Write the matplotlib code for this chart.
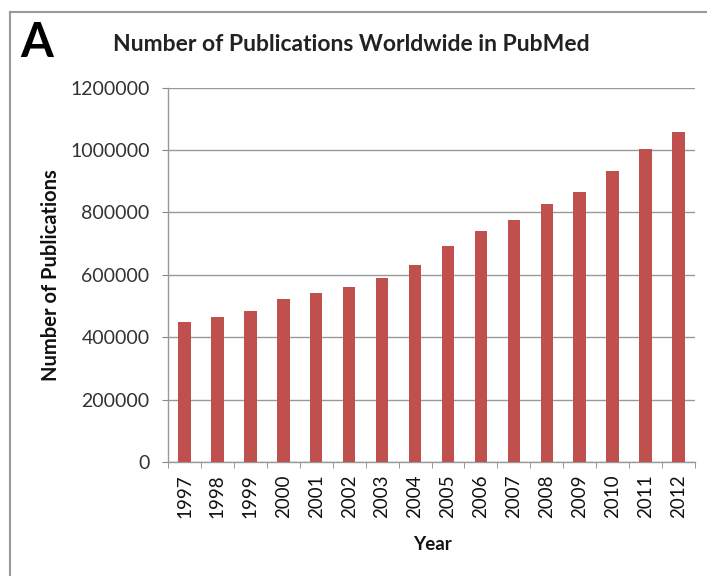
import matplotlib
matplotlib.use("Agg")
import matplotlib.pyplot as plt
from matplotlib.lines import Line2D
import numpy as np

years = ["1997", "1998", "1999", "2000", "2001", "2002", "2003", "2004",
         "2005", "2006", "2007", "2008", "2009", "2010", "2011", "2012"]
publications = [448000, 466000, 484000, 523000, 540000, 560000, 588000, 632000,
                691000, 739000, 774000, 827000, 864000, 932000, 1002000, 1057000]
yticks = [0, 200000, 400000, 600000, 800000, 1000000, 1200000]

plt.rcParams['font.family'] = ['Lato', 'DejaVu Sans']

fig = plt.figure(figsize=(7.07, 5.76), dpi=100)
ax = fig.add_axes([168/707, 0.198, (695-168)/707, 0.650])

x = np.arange(len(years))
ax.bar(x, publications, width=0.38, color="#C0504D", zorder=3)

ax.set_xlim(-0.5, len(years) - 0.5)
ax.set_ylim(0, 1200000)
ax.set_yticks(yticks)
ax.set_yticklabels([str(v) for v in yticks], fontsize=14, color="#333333")
ax.yaxis.grid(True, color="#999999", linewidth=1.0, zorder=0)

# category labels at centers, tick marks at boundaries
ax.set_xticks(x)
ax.set_xticklabels(years, rotation=90, fontsize=13.5, color="#111111")
ax.tick_params(axis='x', which='major', length=0, pad=9)
ax.set_xticks(np.arange(-0.5, len(years) + 0.5, 1), minor=True)
ax.tick_params(axis='x', which='minor', length=4.3, color="#888888", direction='out')
ax.tick_params(axis='y', length=4.3, color="#888888", direction='out', pad=9)

for s in ['top', 'right']:
    ax.spines[s].set_visible(False)
for s in ['left', 'bottom']:
    ax.spines[s].set_color("#999999")
    ax.spines[s].set_linewidth(1.0)

fig.text(0.497, 0.922, "Number of Publications Worldwide in PubMed",
         ha='center', va='center', fontsize=16.5, fontweight='bold', color="#222222")
fig.text(0.052, 0.925, "A", ha='center', va='center', fontsize=34,
         fontweight='bold', color="black")
fig.text(0.072, 0.523, "Number of Publications", rotation=90, ha='center',
         va='center', fontsize=14.5, fontweight='bold', color="#111111")
fig.text(0.611, 0.054, "Year", ha='center', va='center', fontsize=13.5,
         fontweight='bold', color="#111111")

# outer frame lines (top and left)
fig.add_artist(Line2D([10/707, 1.0], [1 - 12/576, 1 - 12/576],
                      transform=fig.transFigure, color="#999999", linewidth=1.5))
fig.add_artist(Line2D([10/707, 10/707], [0.0, 1 - 12/576],
                      transform=fig.transFigure, color="#999999", linewidth=1.5))

fig.savefig("out.png", dpi=100, facecolor="white")
